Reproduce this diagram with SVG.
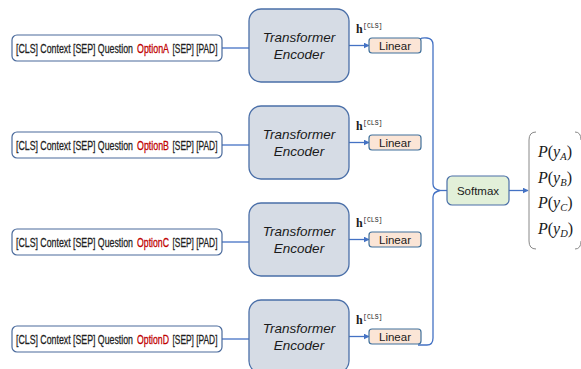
<svg xmlns="http://www.w3.org/2000/svg" width="581" height="369" viewBox="0 0 581 369">
<defs>
<style>
.inp{fill:#fff;stroke:#4a6a9c;stroke-width:1.2}
.it{font-family:"Liberation Sans",Arial,sans-serif;font-size:13.5px;fill:#1e1e1e;stroke:#1e1e1e;stroke-width:0.3}
.red{fill:#c00000;stroke:#c00000}
.enc{fill:#d6dce5;stroke:#4a6fa8;stroke-width:1.3}
.et{font-family:"Liberation Sans",Arial,sans-serif;font-style:italic;font-size:13.5px;fill:#1a1a1a;text-anchor:middle}
.lin{fill:#fbe5d6;stroke:#41719c;stroke-width:1.2}
.lt{font-family:"Liberation Sans",Arial,sans-serif;font-size:11.5px;fill:#1a1a1a;text-anchor:middle}
.h{font-family:"Liberation Serif","Times New Roman",serif;font-weight:bold;font-size:12px;fill:#1a1a1a}
.hs{font-family:"Liberation Mono","Courier New",monospace;font-size:6.5px;fill:#1a1a1a}
.sm{fill:#e2f0d9;stroke:#4a6fa8;stroke-width:1.2}
.p{font-family:"Liberation Serif","Times New Roman",serif;font-size:16px;fill:#1a1a1a}
.c{fill:none;stroke:#4472c4;stroke-width:1.3}
.br{fill:none;stroke:#888;stroke-width:1}
</style>
<marker id="ah" viewBox="0 0 10 10" refX="9" refY="5" markerWidth="6" markerHeight="6" orient="auto" markerUnits="userSpaceOnUse">
<path d="M0,0 L10,5 L0,10 z" fill="#4472c4"/>
</marker>
</defs>

<g id="connectors">
<line class="c" x1="222" y1="48" x2="249" y2="48"/>
<line class="c" x1="222" y1="145" x2="249" y2="145"/>
<line class="c" x1="222" y1="242" x2="249" y2="242"/>
<line class="c" x1="222" y1="339" x2="249" y2="339"/>
<line class="c" x1="349" y1="45.5" x2="369" y2="45.5" marker-end="url(#ah)"/>
<line class="c" x1="349" y1="142.5" x2="369" y2="142.5" marker-end="url(#ah)"/>
<line class="c" x1="349" y1="239.5" x2="369" y2="239.5" marker-end="url(#ah)"/>
<line class="c" x1="349" y1="336.5" x2="369" y2="336.5" marker-end="url(#ah)"/>
<path class="c" d="M420,39 Q422,37.5 427,38 Q433,38.5 433,45 L433,184 Q433,189 440,190.5 Q433,192 433,197 L433,338 Q433,345 427,345 L418,345"/>
<line class="c" x1="440" y1="190.5" x2="447" y2="190.5"/>
<line class="c" x1="509" y1="190.5" x2="528" y2="190.5" marker-end="url(#ah)"/>
</g>

<g id="input-a">
<rect class="inp" x="12" y="35" width="210" height="26" rx="5"/>
<g transform="translate(0,53) scale(0.65,1)">
<text class="it" x="24.6" y="0" textLength="180" lengthAdjust="spacingAndGlyphs">[CLS] Context [SEP] Question</text>
<text class="it red" x="210.8" y="0" textLength="49.2" lengthAdjust="spacingAndGlyphs">OptionA</text>
<text class="it" x="265.4" y="0" textLength="69.2" lengthAdjust="spacingAndGlyphs">[SEP] [PAD]</text>
</g>
</g>
<g id="input-b">
<rect class="inp" x="12" y="132" width="210" height="26" rx="5"/>
<g transform="translate(0,150) scale(0.65,1)">
<text class="it" x="24.6" y="0" textLength="180" lengthAdjust="spacingAndGlyphs">[CLS] Context [SEP] Question</text>
<text class="it red" x="210.8" y="0" textLength="49.2" lengthAdjust="spacingAndGlyphs">OptionB</text>
<text class="it" x="265.4" y="0" textLength="69.2" lengthAdjust="spacingAndGlyphs">[SEP] [PAD]</text>
</g>
</g>
<g id="input-c">
<rect class="inp" x="12" y="229" width="210" height="26" rx="5"/>
<g transform="translate(0,247) scale(0.65,1)">
<text class="it" x="24.6" y="0" textLength="180" lengthAdjust="spacingAndGlyphs">[CLS] Context [SEP] Question</text>
<text class="it red" x="210.8" y="0" textLength="49.2" lengthAdjust="spacingAndGlyphs">OptionC</text>
<text class="it" x="265.4" y="0" textLength="69.2" lengthAdjust="spacingAndGlyphs">[SEP] [PAD]</text>
</g>
</g>
<g id="input-d">
<rect class="inp" x="12" y="326" width="210" height="26" rx="5"/>
<g transform="translate(0,344) scale(0.65,1)">
<text class="it" x="24.6" y="0" textLength="180" lengthAdjust="spacingAndGlyphs">[CLS] Context [SEP] Question</text>
<text class="it red" x="210.8" y="0" textLength="49.2" lengthAdjust="spacingAndGlyphs">OptionD</text>
<text class="it" x="265.4" y="0" textLength="69.2" lengthAdjust="spacingAndGlyphs">[SEP] [PAD]</text>
</g>
</g>

<g id="encoder-a">
<rect class="enc" x="249" y="9" width="100" height="73" rx="12"/>
<text class="et" x="299" y="42">Transformer</text>
<text class="et" x="299" y="59">Encoder</text>
</g>
<g id="encoder-b">
<rect class="enc" x="249" y="106" width="100" height="73" rx="12"/>
<text class="et" x="299" y="139">Transformer</text>
<text class="et" x="299" y="156">Encoder</text>
</g>
<g id="encoder-c">
<rect class="enc" x="249" y="203" width="100" height="73" rx="12"/>
<text class="et" x="299" y="236">Transformer</text>
<text class="et" x="299" y="253">Encoder</text>
</g>
<g id="encoder-d">
<rect class="enc" x="249" y="300" width="100" height="73" rx="12"/>
<text class="et" x="299" y="333">Transformer</text>
<text class="et" x="299" y="350">Encoder</text>
</g>

<g id="linear-a">
<text class="h" x="356" y="33">h</text><text class="hs" x="363" y="28">[CLS]</text>
<rect class="lin" x="369" y="38" width="52" height="15" rx="3"/>
<text class="lt" x="395" y="49.5">Linear</text>
</g>
<g id="linear-b">
<text class="h" x="356" y="130">h</text><text class="hs" x="363" y="125">[CLS]</text>
<rect class="lin" x="369" y="135" width="52" height="15" rx="3"/>
<text class="lt" x="395" y="146.5">Linear</text>
</g>
<g id="linear-c">
<text class="h" x="356" y="227">h</text><text class="hs" x="363" y="222">[CLS]</text>
<rect class="lin" x="369" y="232" width="52" height="15" rx="3"/>
<text class="lt" x="395" y="243.5">Linear</text>
</g>
<g id="linear-d">
<text class="h" x="356" y="324">h</text><text class="hs" x="363" y="319">[CLS]</text>
<rect class="lin" x="369" y="329" width="52" height="15" rx="3"/>
<text class="lt" x="395" y="340.5">Linear</text>
</g>

<g id="softmax">
<rect class="sm" x="447" y="176" width="62" height="29" rx="5"/>
<text class="lt" x="478" y="194.5">Softmax</text>
</g>

<g id="output">
<path class="br" d="M536,132 Q529,132 529,140 L529,241 Q529,249 536,249"/>
<path class="br" d="M575,132 Q581,132 581,140 M581,241 Q581,249 575,249"/>
<text class="p" x="538" y="157"><tspan font-style="italic">P</tspan>(<tspan font-style="italic">y</tspan><tspan font-style="italic" font-size="10.5" dy="3">A</tspan><tspan dy="-3">)</tspan></text>
<text class="p" x="538" y="182.5"><tspan font-style="italic">P</tspan>(<tspan font-style="italic">y</tspan><tspan font-style="italic" font-size="10.5" dy="3">B</tspan><tspan dy="-3">)</tspan></text>
<text class="p" x="538" y="208"><tspan font-style="italic">P</tspan>(<tspan font-style="italic">y</tspan><tspan font-style="italic" font-size="10.5" dy="3">C</tspan><tspan dy="-3">)</tspan></text>
<text class="p" x="538" y="233.5"><tspan font-style="italic">P</tspan>(<tspan font-style="italic">y</tspan><tspan font-style="italic" font-size="10.5" dy="3">D</tspan><tspan dy="-3">)</tspan></text>
</g>
</svg>
